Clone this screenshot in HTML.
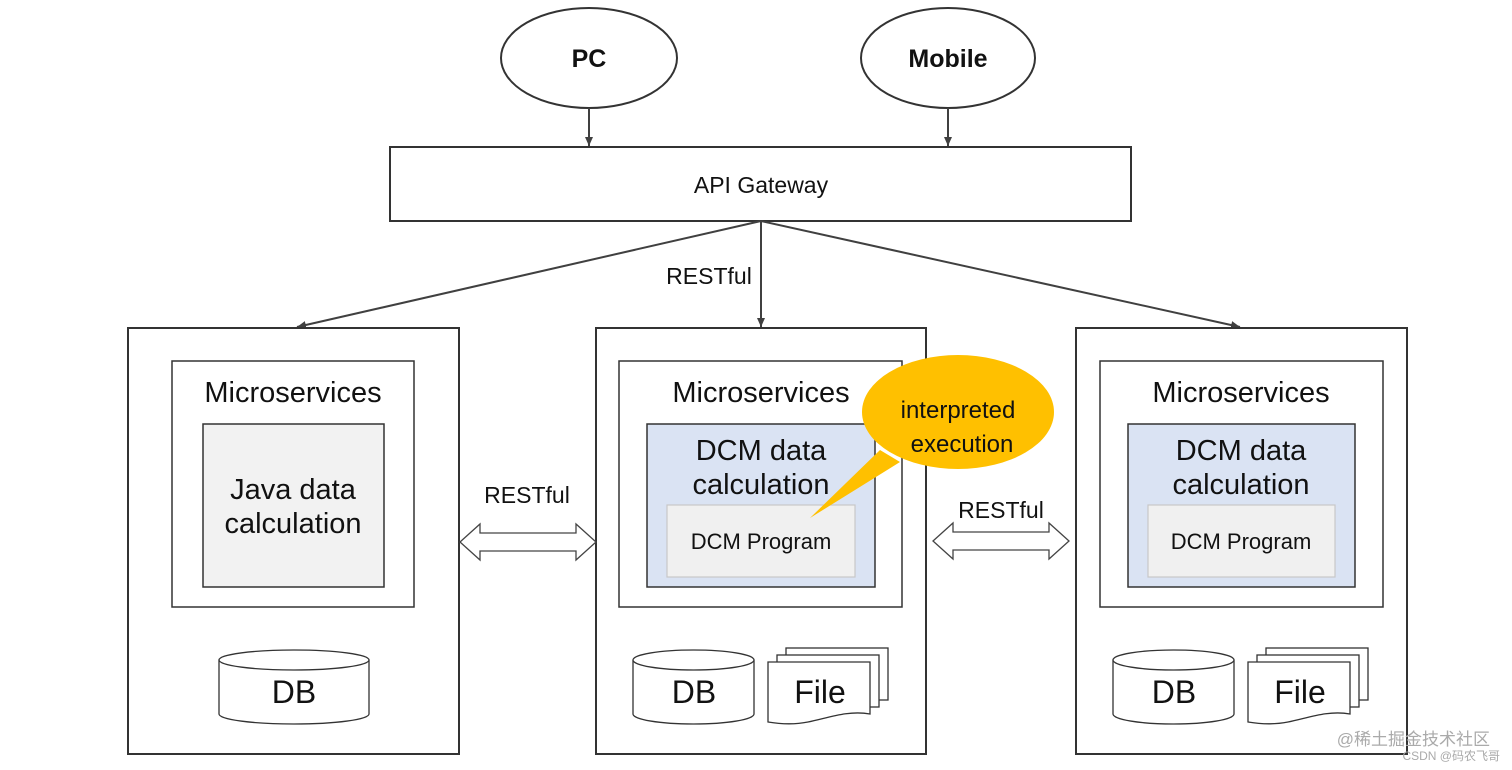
<!DOCTYPE html>
<html><head><meta charset="utf-8"><style>
html,body{margin:0;padding:0;background:#fff;}
svg{display:block;}
text{font-family:"Liberation Sans","Noto Sans CJK SC",sans-serif;fill:#111;}
</style></head><body>
<svg width="1512" height="770" viewBox="0 0 1512 770" xmlns="http://www.w3.org/2000/svg">
<defs>
<marker id="ah" markerWidth="10" markerHeight="10" refX="9" refY="5" orient="auto" markerUnits="userSpaceOnUse">
<path d="M0,1 L9,5 L0,9 Z" fill="#404040"/></marker>
<g id="db">
<path d="M0,10 L0,64 A75,10 0 0 0 150,64 L150,10" fill="#fff" stroke="#333" stroke-width="1.3"/>
<ellipse cx="75" cy="10" rx="75" ry="10" fill="#fff" stroke="#333" stroke-width="1.3"/>
</g>
<g id="dbs">
<path d="M0,10 L0,64 A60.5,10 0 0 0 121,64 L121,10" fill="#fff" stroke="#333" stroke-width="1.3"/>
<ellipse cx="60.5" cy="10" rx="60.5" ry="10" fill="#fff" stroke="#333" stroke-width="1.3"/>
</g>
<g id="file">
<rect x="18" y="0" width="102" height="52" fill="#fff" stroke="#333" stroke-width="1.3"/>
<rect x="9" y="7" width="102" height="52" fill="#fff" stroke="#333" stroke-width="1.3"/>
<path d="M0,14 L102,14 L102,66 C80,62 60,70 40,74 C25,77 12,76 0,74 Z" fill="#fff" stroke="#333" stroke-width="1.3"/>
</g>
<path id="darrow" d="M0,18 L20,0 L20,9 L116,9 L116,0 L136,18 L116,36 L116,27 L20,27 L20,36 Z" fill="#fff" stroke="#444" stroke-width="1.3"/>
</defs>

<ellipse cx="589" cy="58" rx="88" ry="50" fill="#fff" stroke="#333" stroke-width="2"/>
<text x="589" y="67" font-size="25" font-weight="bold" text-anchor="middle">PC</text>
<ellipse cx="948" cy="58" rx="87" ry="50" fill="#fff" stroke="#333" stroke-width="2"/>
<text x="948" y="67" font-size="25" font-weight="bold" text-anchor="middle">Mobile</text>
<line x1="589" y1="108" x2="589" y2="146" stroke="#404040" stroke-width="2" marker-end="url(#ah)"/>
<line x1="948" y1="108" x2="948" y2="146" stroke="#404040" stroke-width="2" marker-end="url(#ah)"/>

<rect x="390" y="147" width="741" height="74" fill="#fff" stroke="#333" stroke-width="2"/>
<text x="761" y="193" font-size="23" text-anchor="middle">API Gateway</text>

<line x1="761" y1="221" x2="297" y2="327" stroke="#404040" stroke-width="2" marker-end="url(#ah)"/>
<line x1="761" y1="221" x2="761" y2="327" stroke="#404040" stroke-width="2" marker-end="url(#ah)"/>
<line x1="761" y1="221" x2="1240" y2="327" stroke="#404040" stroke-width="2" marker-end="url(#ah)"/>
<text x="709" y="284" font-size="23" text-anchor="middle">RESTful</text>

<!-- left -->
<rect x="128" y="328" width="331" height="426" fill="#fff" stroke="#333" stroke-width="2"/>
<rect x="172" y="361" width="242" height="246" fill="#fff" stroke="#333" stroke-width="1.5"/>
<text x="293" y="402" font-size="29" text-anchor="middle">Microservices</text>
<rect x="203" y="424" width="181" height="163" fill="#f2f2f2" stroke="#333" stroke-width="1.5"/>
<text x="293" y="499" font-size="29" text-anchor="middle">Java data</text>
<text x="293" y="533" font-size="29" text-anchor="middle">calculation</text>
<use href="#db" x="219" y="650"/>
<text x="294" y="703" font-size="32" text-anchor="middle">DB</text>

<!-- middle -->
<rect x="596" y="328" width="330" height="426" fill="#fff" stroke="#333" stroke-width="2"/>
<rect x="619" y="361" width="283" height="246" fill="#fff" stroke="#333" stroke-width="1.5"/>
<text x="761" y="402" font-size="29" text-anchor="middle">Microservices</text>
<rect x="647" y="424" width="228" height="163" fill="#dae3f3" stroke="#333" stroke-width="1.5"/>
<text x="761" y="460" font-size="29" text-anchor="middle">DCM data</text>
<text x="761" y="494" font-size="29" text-anchor="middle">calculation</text>
<rect x="667" y="505" width="188" height="72" fill="#f0f0f0" stroke="#c8c8c8" stroke-width="1.2"/>
<text x="761" y="549" font-size="22" text-anchor="middle">DCM Program</text>
<use href="#dbs" x="633" y="650"/>
<text x="694" y="703" font-size="32" text-anchor="middle">DB</text>
<use href="#file" x="768" y="648"/>
<text x="820" y="703" font-size="32" text-anchor="middle">File</text>

<!-- bubble -->
<path d="M880,450 L810,518 L900,462 Z" fill="#ffc000"/>
<ellipse cx="958" cy="412" rx="96" ry="57" fill="#ffc000"/>
<text x="958" y="418" font-size="24" text-anchor="middle">interpreted</text>
<text x="962" y="452" font-size="24" text-anchor="middle">execution</text>

<!-- right -->
<rect x="1076" y="328" width="331" height="426" fill="#fff" stroke="#333" stroke-width="2"/>
<rect x="1100" y="361" width="283" height="246" fill="#fff" stroke="#333" stroke-width="1.5"/>
<text x="1241" y="402" font-size="29" text-anchor="middle">Microservices</text>
<rect x="1128" y="424" width="227" height="163" fill="#dae3f3" stroke="#333" stroke-width="1.5"/>
<text x="1241" y="460" font-size="29" text-anchor="middle">DCM data</text>
<text x="1241" y="494" font-size="29" text-anchor="middle">calculation</text>
<rect x="1148" y="505" width="187" height="72" fill="#f0f0f0" stroke="#c8c8c8" stroke-width="1.2"/>
<text x="1241" y="549" font-size="22" text-anchor="middle">DCM Program</text>
<use href="#dbs" x="1113" y="650"/>
<text x="1174" y="703" font-size="32" text-anchor="middle">DB</text>
<use href="#file" x="1248" y="648"/>
<text x="1300" y="703" font-size="32" text-anchor="middle">File</text>

<!-- double arrows -->
<use href="#darrow" x="460" y="524"/>
<text x="527" y="503" font-size="23" text-anchor="middle">RESTful</text>
<use href="#darrow" x="933" y="523"/>
<text x="1001" y="518" font-size="23" text-anchor="middle">RESTful</text>

<text x="1490" y="745" font-size="17" text-anchor="end" style="fill:#aaa">@稀土掘金技术社区</text>
<text x="1500" y="760" font-size="12" text-anchor="end" style="fill:#aaa">CSDN @码农飞哥</text>
</svg>
</body></html>
